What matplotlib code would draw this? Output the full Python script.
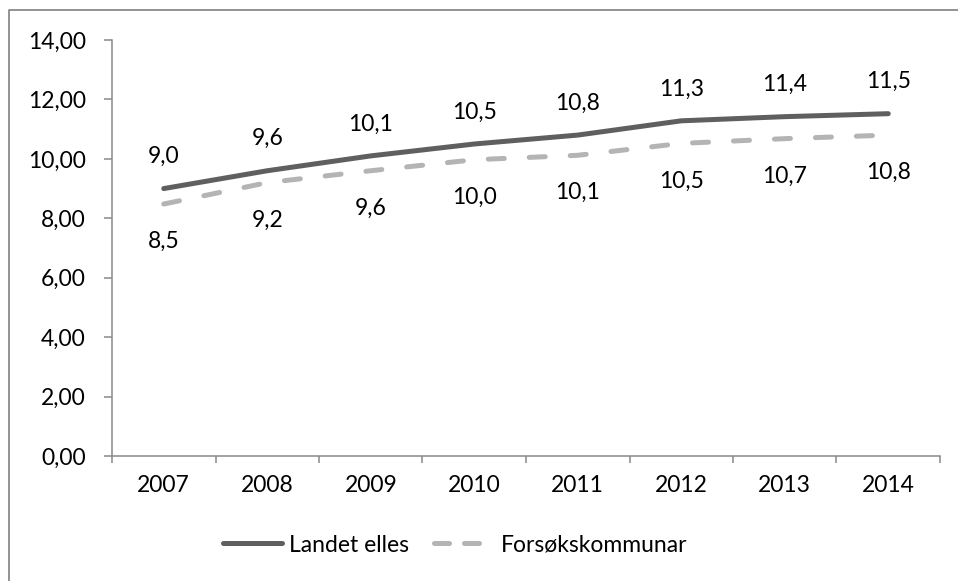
import matplotlib.pyplot as plt
import numpy as np
from matplotlib.lines import Line2D
from matplotlib.ticker import FuncFormatter

plt.rcParams['font.family'] = ['Lato', 'DejaVu Sans']

years = ['2007', '2008', '2009', '2010', '2011', '2012', '2013', '2014']
landet = [9.0, 9.6, 10.1, 10.5, 10.8, 11.28, 11.42, 11.52]
forsok = [8.48, 9.2, 9.6, 9.97, 10.12, 10.52, 10.68, 10.8]
series_names = ['Landet elles', 'Forsøkskommunar']

dark = '#5f5f5f'
light = '#b4b4b4'
axis_col = '#898989'
fs = 16.5

W, H = 958, 581
fig = plt.figure(figsize=(W / 100, H / 100), dpi=100)
ax = fig.add_axes([112 / W, 1 - 456 / H, (940 - 112) / W, (456 - 40) / H])

x = np.arange(len(years))
ax.plot(x, landet, color=dark, lw=3.6, solid_capstyle='round')
ax.plot(x, forsok, color=light, lw=3.6, dash_capstyle='round', dashes=(3.2, 5.0))

# data labels: above for first series, below for second
for xi, v in zip(x, landet):
    ax.annotate(f'{v:.1f}'.replace('.', ','), (xi, v), xytext=(0, 23),
                textcoords='offset points', ha='center', va='center', fontsize=fs)
for xi, v in zip(x, forsok):
    ax.annotate(f'{v:.1f}'.replace('.', ','), (xi, v), xytext=(0, -27),
                textcoords='offset points', ha='center', va='center', fontsize=fs)

ax.set_xlim(-0.5, len(years) - 0.5)
ax.set_ylim(0, 14)
ax.set_yticks(np.arange(0, 15, 2))
ax.yaxis.set_major_formatter(FuncFormatter(lambda v, p: f'{v:.2f}'.replace('.', ',')))
ax.set_xticks(x)
ax.set_xticklabels(years)
ax.set_xticks(np.arange(-0.5, len(years), 1), minor=True)

for s in ['top', 'right']:
    ax.spines[s].set_visible(False)
for s in ['left', 'bottom']:
    ax.spines[s].set_color(axis_col)
    ax.spines[s].set_linewidth(1.1)

ax.tick_params(axis='y', length=6, width=1.1, color=axis_col, pad=13, labelsize=fs)
ax.tick_params(axis='x', which='major', length=0, pad=14, labelsize=fs)
ax.tick_params(axis='x', which='minor', length=5, width=1.1, color=axis_col)

handles = [Line2D([], [], color=dark, lw=3.6, solid_capstyle='round'),
           Line2D([], [], color=light, lw=3.6, dash_capstyle='round', dashes=(3.0, 3.0))]
fig.legend(handles, series_names, loc='center', bbox_to_anchor=(455 / W, 1 - 545 / H),
           ncol=2, frameon=False, fontsize=fs, handlelength=2.6, handletextpad=0.3,
           columnspacing=1.1)

# outer chart border (only top and left edges visible in crop)
fig.add_artist(Line2D([8.5 / W, 8.5 / W, 1.0], [0.0, 1 - 10 / H, 1 - 10 / H],
                      transform=fig.transFigure, color='#8a8a8a', lw=1.3))

fig.savefig('out.png', dpi=100)
